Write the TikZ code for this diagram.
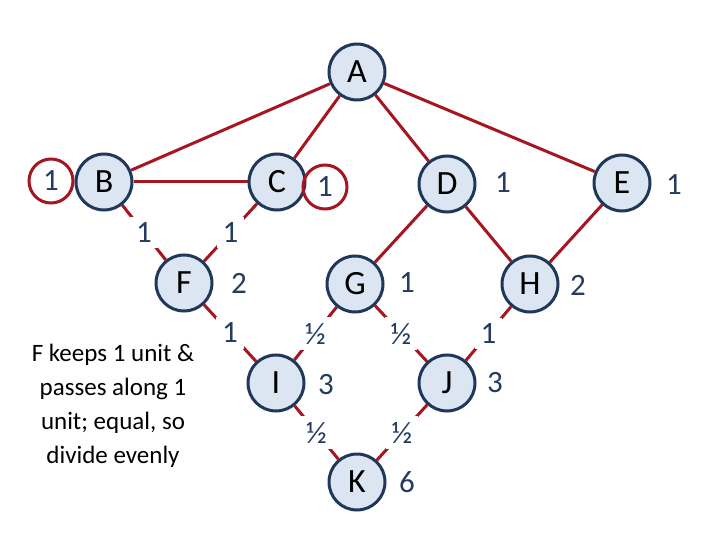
\documentclass[tikz,border=0pt]{standalone}
\usepackage{fontspec}
\setmainfont{Carlito}
\definecolor{edgered}{RGB}{165,22,32}
\definecolor{ringblue}{RGB}{31,56,90}
\definecolor{fillblue}{RGB}{220,230,242}
\definecolor{numblue}{RGB}{36,60,96}
\begin{document}
\begin{tikzpicture}[x=1pt,y=-1pt,
  vertex/.style={circle,draw=ringblue,fill=fillblue,line width=3pt,minimum size=56pt,inner sep=0pt,font=\fontsize{34}{36}\selectfont},
  wt/.style={fill=white,inner sep=6pt,text=numblue,font=\fontsize{31}{34}\selectfont},
  amt/.style={text=numblue,font=\fontsize{31}{34}\selectfont},
  ring/.style={circle,draw=edgered,line width=3pt,minimum size=44pt,inner sep=0pt},
  link/.style={draw=edgered,line width=3pt}]
\useasboundingbox (0,0) rectangle (720,540);
% the vertices
\node [vertex] (a) at (357,72) {A};
\node [vertex] (b) at (104,182) {B};
\node [vertex] (c) at (277,182) {C};
\node [vertex] (d) at (447,184) {D};
\node [vertex] (e) at (622,183) {E};
\node [vertex] (f) at (184,283) {F};
\node [vertex] (g) at (355,284) {G};
\node [vertex] (h) at (530,284) {H};
\node [vertex] (i) at (276,383) {I};
\node [vertex] (j) at (447,383) {J};
\node [vertex] (k) at (357,482) {K};
% the links
\draw [link] (a) -- (b);
\draw [link] (a) -- (c);
\draw [link] (a) -- (d);
\draw [link] (a) -- (e);
\draw [link] (b) -- (c);
\draw [link] (d) -- (g);
\draw [link] (d) -- (h);
\draw [link] (e) -- (h);
\draw [link] (b) -- node [wt] {1} (f);
\draw [link] (c) -- node [wt] {1} (f);
\draw [link] (f) -- node [wt] {1} (i);
\draw [link] (g) -- node [wt] {½} (i);
\draw [link] (g) -- node [wt] {½} (j);
\draw [link] (h) -- node [wt] {1} (j);
\draw [link] (i) -- node [wt] {½} (k);
\draw [link] (j) -- node [wt] {½} (k);
% amounts kept
\node [ring,amt] (rb) at (51,181) {1};
\node [ring,amt] (rc) at (325,187) {1};
\node [amt] (nd) at (503,183) {1};
\node [amt] (ne) at (674,185) {1};
\node [amt] (nf) at (239,283) {2};
\node [amt] (ng) at (407,283) {1};
\node [amt] (nh) at (578,285) {2};
\node [amt] (ni) at (326,385) {3};
\node [amt] (nj) at (495,383) {3};
\node [amt] (nk) at (407,482) {6};
\node [align=center,font=\fontsize{25}{34}\selectfont] (note) at (113,406)
  {F keeps 1 unit \&\\passes along 1\\unit; equal, so\\divide evenly};
\end{tikzpicture}
\end{document}
